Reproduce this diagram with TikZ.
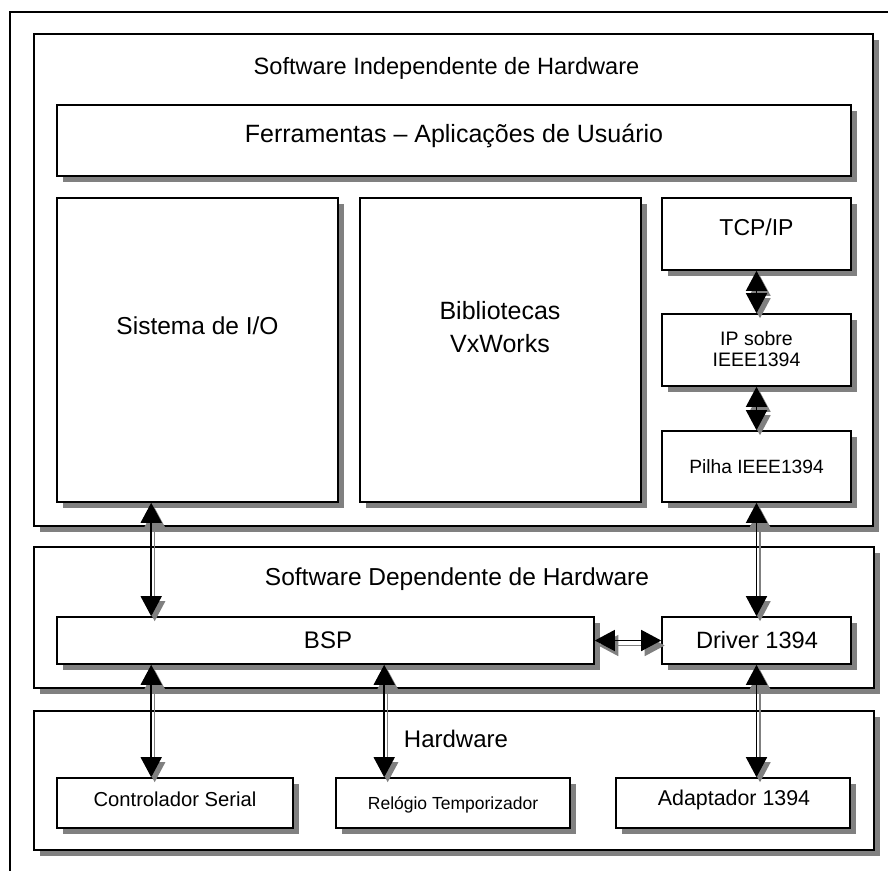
\documentclass[tikz,border=0pt]{standalone}
\usepackage{fontspec}
\setmainfont{Liberation Sans}
\usetikzlibrary{arrows.meta,shadows}

\newcommand{\fsz}[2]{\fontsize{#1}{#2}\selectfont}

\tikzset{
  box/.style={draw, line width=1.6pt, fill=white, inner sep=0pt,
    drop shadow={shadow xshift=6pt, shadow yshift=-6pt, fill=black!50, opacity=1}},
  txt/.style={inner sep=0pt, anchor=base},
  link/.style={{Triangle[width=21pt,length=20pt]}-{Triangle[width=21pt,length=20pt]}, line width=1.5pt},
  linkshade/.style={link, black!50, transform canvas={shift={(3.5pt,-5pt)}}}
}

\begin{document}
\begin{tikzpicture}[x=1pt,y=-1pt]
    \useasboundingbox (0,0) rectangle (888,870);
    \clip (0,0) rectangle (888,870);

    % Moldura
    \draw[line width=1.6pt] (10,890) -- (10,12) -- (900,12);

    % Software independente de hardware
    \node[box, minimum width=839, minimum height=492] (sih) at (453.5,280) {};
    \node[txt, font=\fsz{23.6}{28}] (sihtxt) at (446.5,74) {Software Independente de Hardware};
    \node[box, minimum width=794, minimum height=71] (ferr) at (454,140.5) {};
    \node[txt, font=\fsz{25}{30}] (ferrtxt) at (454,142) {Ferramentas -- Aplicações de Usuário};
    \node[box, minimum width=281, minimum height=304] (sis) at (197.5,350) {};
    \node[txt, font=\fsz{24.5}{30}] (sistxt) at (197.5,334) {Sistema de I/O};
    \node[box, minimum width=281, minimum height=304] (bib) at (500.5,350) {};
    \node[inner sep=0pt, align=center, font=\fsz{25}{33}] (bibtxt) at (500,327) {Bibliotecas\\VxWorks};
    \node[box, minimum width=189, minimum height=72] (tcp) at (756.5,234) {};
    \node[txt, font=\fsz{23}{28}] (tcptxt) at (756.5,235) {TCP/IP};
    \node[box, minimum width=189, minimum height=72] (ipo) at (756.5,350) {};
    \node[inner sep=0pt, align=center, font=\fsz{19.5}{21}] (ipotxt) at (756.5,349) {IP sobre\\IEEE1394};
    \node[box, minimum width=189, minimum height=71] (pil) at (756.5,466.5) {};
    \node[txt, font=\fsz{19.2}{23}] (piltxt) at (756.5,473) {Pilha IEEE1394};

    % Software dependente de hardware
    \node[box, minimum width=840, minimum height=141] (sdh) at (454,617.5) {};
    \node[txt, font=\fsz{24.5}{30}] (sdhtxt) at (457,585) {Software Dependente de Hardware};
    \node[box, minimum width=537, minimum height=47] (bsp) at (325.5,640.5) {};
    \node[txt, font=\fsz{24}{30}] (bsptxt) at (328,648) {BSP};
    \node[box, minimum width=189, minimum height=47] (drv) at (756.5,640.5) {};
    \node[txt, font=\fsz{23.6}{28}] (drvtxt) at (757,648) {Driver 1394};

    % Hardware
    \node[box, minimum width=840, minimum height=139] (hw) at (454,780.5) {};
    \node[txt, font=\fsz{24}{30}] (hwtxt) at (456,747) {Hardware};
    \node[box, minimum width=236, minimum height=50] (ctrl) at (175,803) {};
    \node[txt, font=\fsz{20.2}{24}] (ctrltxt) at (175,806) {Controlador Serial};
    \node[box, minimum width=234, minimum height=50] (rel) at (453,803) {};
    \node[txt, font=\fsz{17.5}{21}] (reltxt) at (453,809) {Relógio Temporizador};
    \node[box, minimum width=234, minimum height=50] (adp) at (733,803) {};
    \node[txt, font=\fsz{21.4}{26}] (adptxt) at (734,805) {Adaptador 1394};

    % Ligacoes (sombra e seta)
    \foreach \sty in {linkshade, link} {
        \draw[\sty] ([xshift=95pt]sis.south west) -- ([xshift=95pt]bsp.north west);
        \draw[\sty] (tcp.south) -- (ipo.north);
        \draw[\sty] (ipo.south) -- (pil.north);
        \draw[\sty] (pil.south) -- (drv.north);
        \draw[\sty] (bsp.east) -- (drv.west);
        \draw[\sty] ([xshift=95pt]bsp.south west) -- ([xshift=95pt]ctrl.north west);
        \draw[\sty] ([xshift=328pt]bsp.south west) -- ([xshift=49pt]rel.north west);
        \draw[\sty] (drv.south) -- (drv.south |- adp.north);
    }
\end{tikzpicture}
\end{document}
